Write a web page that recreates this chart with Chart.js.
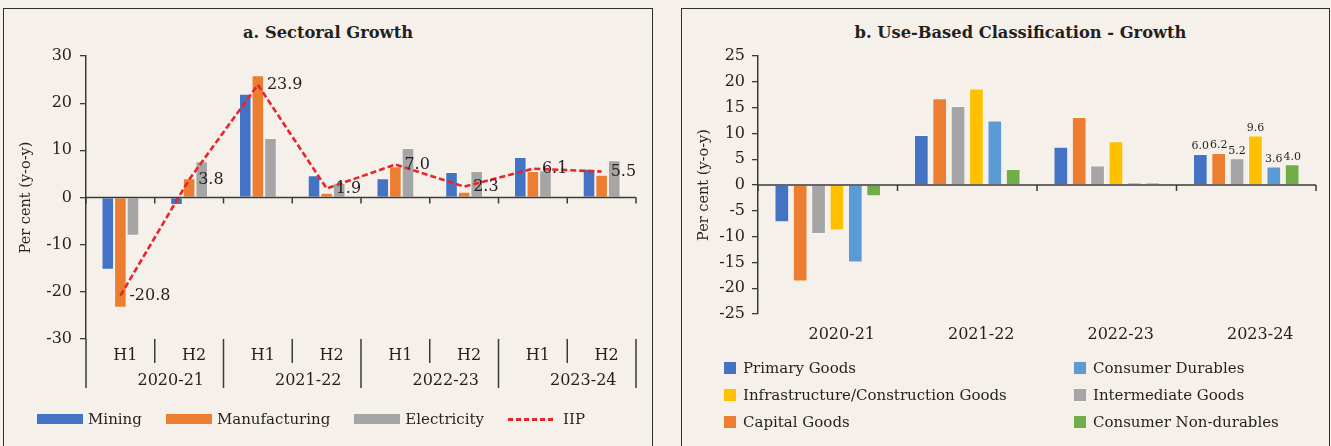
<!DOCTYPE html>
<html>
<head>
<meta charset="utf-8">
<script src="https://cdn.jsdelivr.net/npm/chart.js@4.4.1/dist/chart.umd.min.js"></script>
<style>
  html, body { margin: 0; padding: 0; background: #F6F0EB; }
  body { width: 1331px; height: 446px; position: relative; overflow: hidden;
         font-family: 'DejaVu Serif', serif; color: #231F20; }
  .panel { position: absolute; top: 8px; height: 460px; border: 1px solid #2e2e2e; box-sizing: border-box; }
  .panel canvas { position: absolute; left: 0; top: 0; }
  .title { position: absolute; top: 14px; left: 0; right: 0; text-align: center;
           font-weight: bold; font-size: 16.3px; line-height: 20px; }
  .legend-row { position: absolute; top: 400px; left: 33px; display: flex; align-items: center;
                font-size: 15px; line-height: 20px; }
  .legend-row .item { display: flex; align-items: center; margin-right: 24px; }
  .legend-row .swatch { width: 46px; height: 10px; margin-right: 5px; }
  .legend-row .dash { width: 47px; height: 3px; margin-right: 8px;
                      background: repeating-linear-gradient(90deg, #E8262A 0 5px, transparent 5px 8px); }
  .legend-grid { position: absolute; top: 349px; left: 42px; font-size: 15px; line-height: 20px; }
  .legend-grid .item { position: absolute; display: flex; align-items: center; white-space: nowrap; }
  .legend-grid .box { width: 12px; height: 12px; margin-right: 7px; }
</style>
</head>
<body>

<div class="panel" id="panelA" style="left:3px; width:650px;">
  <div class="title">a. Sectoral Growth</div>
  <canvas id="chartA" width="648" height="437"></canvas>
  <div class="legend-row" id="legendA"></div>
</div>

<div class="panel" id="panelB" style="left:681px; width:649px;">
  <div class="title" style="left:30px;">b. Use-Based Classification - Growth</div>
  <canvas id="chartB" width="647" height="437"></canvas>
  <div class="legend-grid" id="legendB"></div>
</div>

<script>
// ---- data: a. Sectoral Growth ----
const halves = ['H1', 'H2', 'H1', 'H2', 'H1', 'H2', 'H1', 'H2'];
const halfYears = ['2020-21', '2021-22', '2022-23', '2023-24'];
const mining        = [-15.3, -1.6, 22.0, 4.7, 4.1, 5.4, 8.6, 6.1];
const manufacturing = [-23.4, 4.1, 25.9, 1.0, 6.6, 1.2, 5.6, 4.8];
const electricity   = [-8.1, 7.7, 12.6, 3.1, 10.5, 5.6, 5.8, 7.9];
const iip           = [-20.8, 3.8, 23.9, 1.9, 7.0, 2.3, 6.1, 5.5];

// ---- data: b. Use-Based Classification ----
const years          = ['2020-21', '2021-22', '2022-23', '2023-24'];
const primary        = [-7.2, 9.7, 7.4, 6.0];
const capital        = [-18.7, 16.8, 13.2, 6.2];
const intermediate   = [-9.5, 15.3, 3.8, 5.2];
const infrastructure = [-8.8, 18.7, 8.5, 9.6];
const durables       = [-15.0, 12.5, 0.5, 3.6];
const nonDurables    = [-2.2, 3.1, 0.5, 4.0];

const INK = '#231F20';
const AXIS = '#3a3a3a';
const FONT = "'DejaVu Serif', serif";
const C = {
  blue: '#4472C4', orange: '#ED7D31', gray: '#A5A5A5',
  yellow: '#FFC000', lightBlue: '#5B9BD5', green: '#70AD47', red: '#E8262A',
};
const edge = 'rgba(255,255,255,0.4)';

function yAxis(min, max, step, width, tickPad) {
  return {
    min, max,
    ticks: { stepSize: step, color: INK, padding: tickPad, font: { family: FONT, size: 16 } },
    grid: { display: true, drawOnChartArea: false, drawTicks: true, tickLength: 6, color: AXIS, lineWidth: 1.3 },
    border: { display: true, color: AXIS, width: 1.5 },
    title: { display: true, text: 'Per cent (y-o-y)', color: INK,
             font: { family: FONT, size: 14.5 }, padding: { top: 13.3, bottom: 0 } },
    afterFit(s) { s.width = width; },
  };
}

// zero line with tick marks between categories
function drawZeroLine(chart) {
  const { ctx, chartArea } = chart;
  const x = chart.scales.x, y = chart.scales.y;
  const y0 = y.getPixelForValue(0);
  const n = x.getLabels().length;
  const w = x.getPixelForValue(1) - x.getPixelForValue(0);
  ctx.save();
  ctx.strokeStyle = AXIS;
  ctx.lineWidth = 1.5;
  ctx.beginPath();
  ctx.moveTo(chartArea.left, y0);
  ctx.lineTo(chartArea.right, y0);
  for (let i = 0; i <= n; i++) {
    const bx = x.getPixelForValue(i) - w / 2;
    ctx.moveTo(bx, y0);
    ctx.lineTo(bx, y0 + 6);
  }
  ctx.stroke();
  ctx.restore();
}

const sectoralDecor = {
  id: 'sectoralDecor',
  afterDatasetsDraw(chart) {
    drawZeroLine(chart);
    const { ctx } = chart;
    const meta = chart.getDatasetMeta(0);
    ctx.save();
    ctx.font = `16px ${FONT}`;
    ctx.fillStyle = INK;
    ctx.textAlign = 'left';
    ctx.textBaseline = 'middle';
    meta.data.forEach((pt, i) => ctx.fillText(iip[i].toFixed(1), pt.x + 9, pt.y));
    ctx.restore();
  },
  afterDraw(chart) {
    const { ctx, chartArea } = chart;
    const x = chart.scales.x;
    const w = x.getPixelForValue(1) - x.getPixelForValue(0);
    const b = chartArea.bottom;
    ctx.save();
    ctx.strokeStyle = AXIS;
    ctx.lineWidth = 1.5;
    ctx.beginPath();
    for (let i = 0; i <= halves.length; i++) {
      const bx = x.getPixelForValue(i) - w / 2;
      ctx.moveTo(bx, b);
      ctx.lineTo(bx, b + (i % 2 === 0 ? 49 : 24));
    }
    ctx.stroke();
    ctx.font = `16px ${FONT}`;
    ctx.fillStyle = INK;
    ctx.textAlign = 'center';
    ctx.textBaseline = 'middle';
    halves.forEach((h, i) => ctx.fillText(h, x.getPixelForValue(i) + 5, b + 17));
    halfYears.forEach((yr, k) => {
      const cx = (x.getPixelForValue(2 * k) + x.getPixelForValue(2 * k + 1)) / 2;
      ctx.fillText(yr, cx + 16, b + 42);
    });
    ctx.restore();
  },
};

new Chart(document.getElementById('chartA'), {
  type: 'bar',
  data: {
    labels: halves,
    datasets: [
      { type: 'line', label: 'IIP', data: iip, borderColor: C.red, borderWidth: 2.6,
        borderDash: [6, 3], pointRadius: 0, tension: 0, fill: false, order: 0 },
      { label: 'Mining', data: mining, backgroundColor: C.blue, borderColor: edge, borderWidth: 1, order: 1 },
      { label: 'Manufacturing', data: manufacturing, backgroundColor: C.orange, borderColor: edge, borderWidth: 1, order: 1 },
      { label: 'Electricity', data: electricity, backgroundColor: C.gray, borderColor: edge, borderWidth: 1, order: 1 },
    ],
  },
  plugins: [sectoralDecor],
  options: {
    responsive: false,
    animation: false,
    devicePixelRatio: 1,
    layout: { padding: { left: 0, right: 16, top: 47, bottom: 107 } },
    datasets: { bar: { categoryPercentage: 0.55, barPercentage: 1.0 } },
    plugins: { legend: { display: false }, tooltip: { enabled: false } },
    scales: {
      x: { display: false, offset: true },
      y: yAxis(-30, 30, 10, 82, 8),
    },
  },
});

const useBasedDecor = {
  id: 'useBasedDecor',
  afterDatasetsDraw(chart) {
    drawZeroLine(chart);
    const { ctx, chartArea } = chart;
    const x = chart.scales.x;
    const last = years.length - 1;
    ctx.save();
    ctx.fillStyle = INK;
    ctx.textAlign = 'center';
    ctx.font = `11px ${FONT}`;
    ctx.textBaseline = 'bottom';
    chart.data.datasets.forEach((ds, i) => {
      const bar = chart.getDatasetMeta(i).data[last];
      ctx.fillText(ds.data[last].toFixed(1), bar.x, bar.y - 2);
    });
    ctx.font = `16px ${FONT}`;
    ctx.textBaseline = 'middle';
    years.forEach((yr, i) => ctx.fillText(yr, x.getPixelForValue(i) + 14, chartArea.bottom + 21));
    ctx.restore();
  },
};

const useSeries = [
  { label: 'Primary Goods', data: primary, color: C.blue },
  { label: 'Capital Goods', data: capital, color: C.orange },
  { label: 'Intermediate Goods', data: intermediate, color: C.gray },
  { label: 'Infrastructure/Construction Goods', data: infrastructure, color: C.yellow },
  { label: 'Consumer Durables', data: durables, color: C.lightBlue },
  { label: 'Consumer Non-durables', data: nonDurables, color: C.green },
];

new Chart(document.getElementById('chartB'), {
  type: 'bar',
  data: {
    labels: years,
    datasets: useSeries.map(s => ({
      label: s.label, data: s.data, backgroundColor: s.color, borderColor: edge, borderWidth: 1,
    })),
  },
  plugins: [useBasedDecor],
  options: {
    responsive: false,
    animation: false,
    devicePixelRatio: 1,
    layout: { padding: { left: 0, right: 13, top: 47, bottom: 132 } },
    datasets: { bar: { categoryPercentage: 0.79, barPercentage: 0.8 } },
    plugins: { legend: { display: false }, tooltip: { enabled: false } },
    scales: {
      x: { display: false, offset: true },
      y: yAxis(-25, 25, 5, 76, 7),
    },
  },
});

// ---- legends ----
const legendA = document.getElementById('legendA');
[['Mining', C.blue], ['Manufacturing', C.orange], ['Electricity', C.gray]].forEach(([name, col]) => {
  legendA.insertAdjacentHTML('beforeend',
    `<div class="item"><div class="swatch" style="background:${col}"></div><span>${name}</span></div>`);
});
legendA.insertAdjacentHTML('beforeend', `<div class="item"><div class="dash"></div><span>IIP</span></div>`);

const legendOrder = [
  ['Primary Goods', 0, 0], ['Infrastructure/Construction Goods', 0, 1], ['Capital Goods', 0, 2],
  ['Consumer Durables', 1, 0], ['Intermediate Goods', 1, 1], ['Consumer Non-durables', 1, 2],
];
const legendB = document.getElementById('legendB');
legendOrder.forEach(([name, col, row]) => {
  const s = useSeries.find(d => d.label === name);
  legendB.insertAdjacentHTML('beforeend',
    `<div class="item" style="left:${col * 350}px; top:${row * 27}px;">` +
    `<div class="box" style="background:${s.color}"></div><span>${name}</span></div>`);
});
</script>
</body>
</html>
